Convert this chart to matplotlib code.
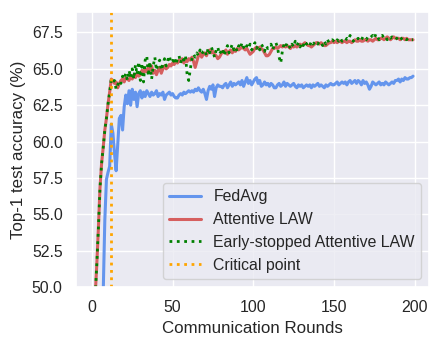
import numpy as np
import matplotlib
matplotlib.use("Agg")
import matplotlib.pyplot as plt
import seaborn as sns

# Accuracy per communication round
rounds = np.arange(200)
critical_round = 12

fedavg = [
    38.0, 40.0, 42.0, 43.5, 45.0, 46.5, 48.0, 49.6, 54.6, 57.4,
    57.9, 58.3, 61.2, 60.6, 59.2, 58.0, 59.8, 61.6, 61.8, 60.8,
    62.4, 63.2, 62.6, 63.5, 62.5, 63.6, 62.9, 63.4, 62.4, 63.3,
    63.5, 63.0, 63.4, 63.1, 63.5, 63.3, 63.1, 63.4, 63.2, 63.3,
    63.5, 63.1, 63.3, 63.2, 63.4, 62.9, 63.2, 63.3, 63.4, 63.2,
    63.3, 63.1, 63.0, 63.0, 63.2, 63.3, 63.2, 63.4, 63.3, 63.4,
    63.5, 63.4, 63.5, 63.4, 63.6, 63.5, 63.7, 63.5, 63.4, 63.6,
    63.3, 62.9, 63.5, 63.8, 63.6, 63.9, 63.1, 63.7, 63.9, 63.8,
    63.8, 63.7, 63.9, 64.0, 63.7, 63.9, 64.1, 63.8, 64.0, 63.9,
    64.0, 64.1, 63.9, 64.2, 63.8, 64.1, 64.4, 64.0, 64.2, 63.9,
    64.1, 64.3, 64.4, 64.0, 64.2, 63.8, 63.9, 64.1, 63.9, 64.0,
    63.8, 64.0, 63.9, 63.7, 63.7, 63.9, 64.0, 63.8, 63.9, 64.1,
    63.8, 64.0, 63.9, 63.8, 63.9, 64.0, 63.8, 63.7, 63.9, 63.8,
    63.9, 63.7, 63.8, 63.9, 63.8, 63.9, 63.7, 63.9, 63.8, 63.9,
    64.0, 63.8, 63.9, 63.8, 63.7, 63.9, 63.8, 63.9, 64.0, 63.9,
    63.9, 64.0, 64.1, 63.9, 64.0, 64.1, 64.0, 64.1, 63.9, 64.1,
    64.2, 64.0, 64.1, 64.2, 64.0, 64.2, 64.1, 63.9, 64.2, 64.0,
    64.1, 63.9, 63.6, 63.8, 64.1, 64.0, 63.9, 64.0, 64.1, 63.9,
    64.0, 63.9, 64.1, 64.0, 63.9, 64.0, 64.1, 64.0, 64.2, 64.2,
    64.3, 64.1, 64.3, 64.2, 64.4, 64.3, 64.3, 64.4, 64.4, 64.5,
]

attentive_law = [
    45.0, 47.2, 49.3, 51.5, 54.0, 56.8, 58.5, 59.6, 60.8, 61.6,
    62.6, 63.4, 64.3, 64.2, 64.0, 64.1, 63.7, 64.0, 64.2, 64.3,
    64.1, 64.4, 64.3, 64.2, 64.5, 64.3, 64.6, 64.4, 64.7, 64.5,
    64.6, 64.9, 64.7, 65.0, 64.8, 65.1, 64.9, 65.2, 64.7, 64.9,
    64.6, 64.9, 65.1, 64.7, 65.0, 65.2, 65.0, 65.1, 65.3, 65.2,
    65.4, 65.3, 65.5, 65.4, 65.6, 65.5, 65.7, 65.4, 65.6, 65.5,
    65.7, 65.6, 65.8, 65.5, 65.1, 65.5, 65.9, 66.1, 65.8, 66.0,
    66.1, 65.9, 66.2, 66.3, 66.1, 66.2, 66.0, 65.9, 65.7, 65.8,
    66.0, 66.2, 66.1, 66.3, 66.0, 66.2, 66.3, 66.1, 66.3, 66.2,
    66.4, 66.3, 66.4, 66.5, 66.4, 66.3, 66.4, 66.2, 66.0, 66.1,
    66.2, 66.4, 66.5, 66.4, 66.5, 66.4, 66.3, 66.1, 65.9, 65.9,
    66.0, 66.2, 66.4, 66.4, 66.5, 66.4, 66.5, 66.6, 66.5, 66.6,
    66.5, 66.6, 66.5, 66.4, 66.6, 66.5, 66.6, 66.5, 66.6, 66.7,
    66.6, 66.7, 66.8, 66.7, 66.6, 66.6, 66.5, 66.6, 66.7, 66.8,
    66.8, 66.7, 66.8, 66.7, 66.6, 66.6, 66.7, 66.8, 66.8, 66.9,
    66.8, 66.9, 66.8, 66.9, 66.9, 66.8, 66.9, 66.9, 66.8, 66.9,
    66.9, 66.8, 66.9, 67.0, 66.9, 66.9, 67.0, 66.9, 66.9, 67.0,
    67.0, 66.9, 67.0, 67.0, 66.9, 67.0, 67.1, 67.0, 67.0, 67.1,
    67.1, 67.0, 67.1, 67.2, 67.1, 67.0, 67.1, 67.2, 67.1, 67.1,
    67.1, 67.0, 67.1, 67.1, 67.0, 67.1, 67.0, 67.0, 67.0, 67.0,
]

early_stopped = [
    45.0, 47.2, 49.3, 51.5, 54.0, 56.8, 58.5, 59.6, 60.8, 61.6,
    62.6, 63.4, 64.3, 64.1, 64.2, 63.6, 63.9, 64.2, 64.0, 64.5,
    64.3, 64.7, 64.2, 64.9, 64.4, 65.0, 64.3, 65.3, 64.6, 65.5,
    64.2, 65.4, 64.1, 65.6, 65.9, 64.5, 65.5, 64.3, 65.2, 65.8,
    64.9, 65.4, 65.6, 64.9, 65.3, 65.7, 65.2, 65.6, 65.9, 65.4,
    65.5, 65.8, 65.3, 65.7, 65.9, 65.4, 65.8, 65.6, 65.9, 64.6,
    64.2, 65.0, 65.7, 66.0, 65.8, 66.1, 65.9, 66.3, 66.0, 66.2,
    66.3, 65.9, 66.4, 66.1, 66.5, 66.2, 65.8, 66.3, 66.5, 66.0,
    66.2, 66.4, 65.9, 66.3, 66.6, 66.1, 66.4, 66.7, 66.3, 66.5,
    66.2, 66.6, 66.4, 66.8, 66.5, 66.3, 66.6, 66.4, 66.7, 66.3,
    66.5, 66.8, 66.4, 66.6, 66.3, 66.7, 66.5, 66.2, 66.6, 66.4,
    66.5, 66.7, 66.3, 66.6, 66.8, 66.5, 65.8, 65.4, 66.2, 66.7,
    66.5, 66.8, 66.6, 66.4, 66.7, 66.5, 66.9, 66.6, 66.8, 66.5,
    66.8, 66.6, 66.9, 66.7, 66.8, 66.6, 66.9, 66.7, 66.8, 66.9,
    66.7, 66.9, 66.8, 66.6, 66.9, 66.7, 67.0, 66.8, 66.9, 67.0,
    66.9, 66.8, 67.0, 66.9, 67.1, 66.9, 67.0, 66.9, 67.1, 67.0,
    67.3, 67.0, 66.9, 67.1, 67.0, 67.1, 66.9, 67.0, 67.2, 67.1,
    67.0, 67.2, 67.1, 67.2, 67.3, 67.1, 67.4, 67.2, 67.0, 67.2,
    67.3, 67.1, 67.2, 67.0, 67.2, 67.1, 67.2, 67.1, 67.0, 67.1,
    67.2, 67.0, 67.1, 67.2, 67.1, 67.0, 67.1, 67.0, 67.0, 67.0,
]

sns.set_theme(style="darkgrid")
plt.rcParams["font.family"] = ["Liberation Sans", "DejaVu Sans"]
plt.rcParams["xtick.labelsize"] = 11.4
plt.rcParams["ytick.labelsize"] = 11.4
plt.rcParams["axes.labelsize"] = 12.2
plt.rcParams["legend.fontsize"] = 11.4

fig = plt.figure(figsize=(4.41, 3.46), dpi=100)
ax = fig.add_axes([0.172, 0.17, 0.801, 0.795])

ax.plot(rounds, fedavg, color="cornflowerblue", lw=2.2, label="FedAvg")
ax.plot(rounds, attentive_law, color="#d65f5f", lw=2.2, label="Attentive LAW")
ax.plot(rounds, early_stopped, color="green", lw=2, linestyle=":",
        label="Early-stopped Attentive LAW")
ax.axvline(critical_round, color="orange", lw=2, linestyle=":", label="Critical point")

ax.set_ylim(50, 68.9)
ax.set_xlabel("Communication Rounds")
ax.set_ylabel("Top-1 test accuracy (%)")
ax.legend(loc="lower right")

fig.savefig("out.png", dpi=100)
